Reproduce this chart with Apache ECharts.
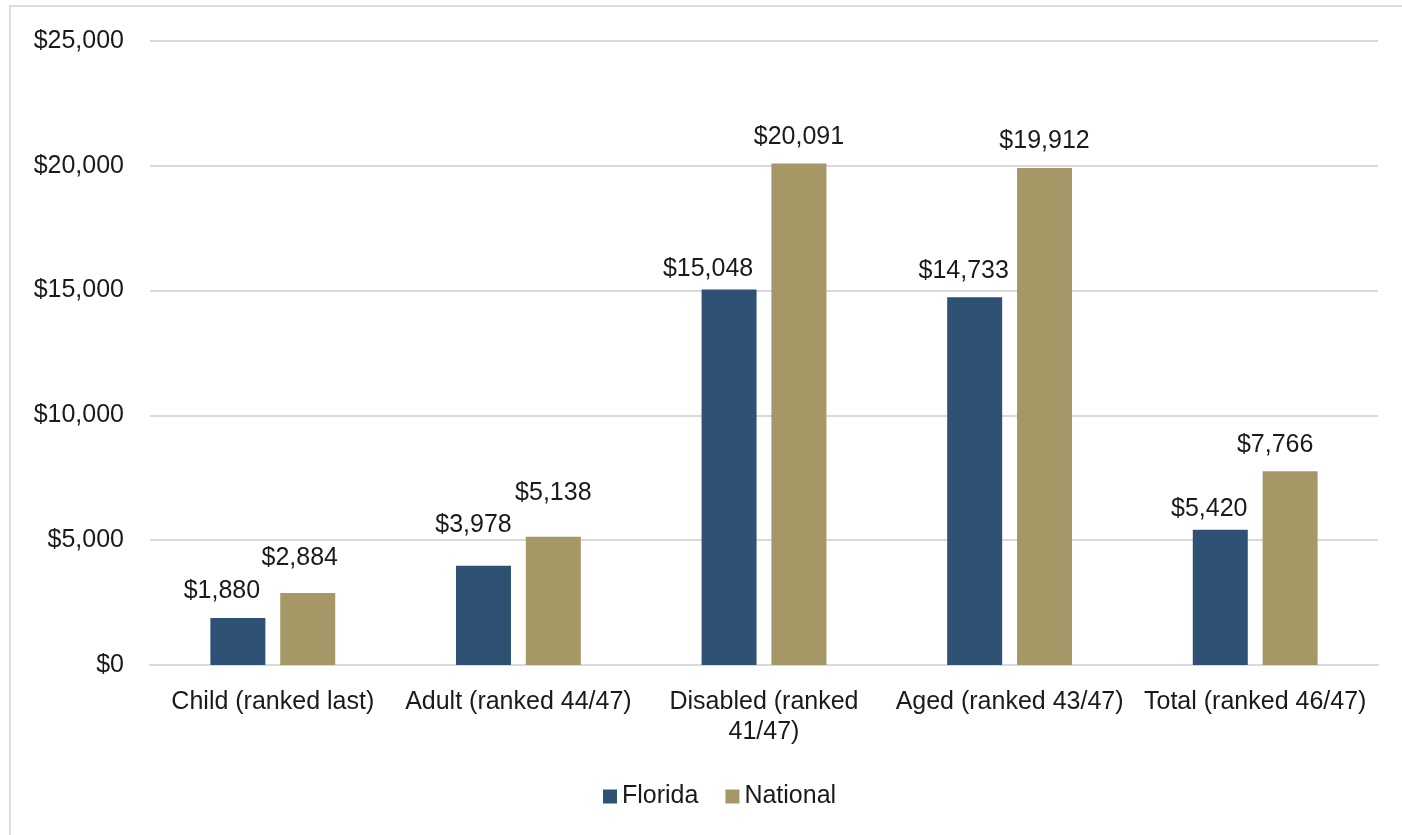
<!DOCTYPE html>
<html>
<head>
<meta charset="utf-8">
<script src="https://cdn.jsdelivr.net/npm/echarts@6/dist/echarts.min.js"></script>
<style>
  html, body { margin: 0; padding: 0; background: #ffffff; }
  #frame {
    position: absolute; left: 9px; top: 5px; width: 1393px; height: 830px;
    border-left: 2px solid #dedede; border-top: 2px solid #dedede; box-sizing: border-box;
  }
  #chart { position: absolute; left: 0; top: 0; width: 1402px; height: 835px; }
</style>
</head>
<body>
<div id="frame"></div>
<div id="chart"></div>
<script>
// Per-enrollee spending by eligibility group
const categories = [
  'Child (ranked last)',
  'Adult (ranked 44/47)',
  'Disabled (ranked 41/47)',
  'Aged (ranked 43/47)',
  'Total (ranked 46/47)'
];
const florida = [1880, 3978, 15048, 14733, 5420];
const national = [2884, 5138, 20091, 19912, 7766];
const yTicks = [0, 5000, 10000, 15000, 20000, 25000];

const FONT = '"Liberation Sans", Arial, Helvetica, sans-serif';
const TEXT = '#1a1a1a';
const FS = 25;
const money = v => '$' + Number(v).toLocaleString('en-US');

// Hand-placed value labels: [dx, dy] nudges so neighbouring labels stay clear
const floridaLabelNudge = [[-16, 0], [-10, -14], [-21, 6], [-11, 0], [-11, 6]];
const nationalLabelNudge = [[-8, -8], [0, -17], [0, 0], [0, 0], [-15, 0]];

// Word-wrap category names to the available width per category
const measureCtx = document.createElement('canvas').getContext('2d');
measureCtx.font = FS + 'px ' + FONT;
function wrapWords(text, maxWidth) {
  const words = text.split(' ');
  const lines = [];
  let line = '';
  words.forEach(w => {
    const test = line ? line + ' ' + w : w;
    if (line && measureCtx.measureText(test).width > maxWidth) {
      lines.push(line);
      line = w;
    } else {
      line = test;
    }
  });
  if (line) lines.push(line);
  return lines.join('\n');
}

function withNudges(values, nudges) {
  return values.map((v, i) => ({ value: v, label: { offset: nudges[i] } }));
}

const chart = echarts.init(document.getElementById('chart'), null, { renderer: 'canvas' });

const label = {
  show: true,
  position: 'top',
  distance: 14,
  formatter: p => money(p.value),
  fontFamily: FONT,
  fontSize: FS,
  color: TEXT
};

chart.setOption({
  animation: false,
  textStyle: { fontFamily: FONT },
  grid: { left: 150, right: 24, top: 41, bottom: 170, containLabel: false },
  legend: {
    top: 779,
    left: 598,
    itemWidth: 14,
    itemHeight: 14,
    itemGap: 27,
    icon: 'rect',
    textStyle: { fontFamily: FONT, fontSize: FS, color: TEXT },
    data: ['Florida', 'National']
  },
  xAxis: {
    type: 'category',
    data: categories,
    axisLine: { show: true, lineStyle: { color: '#d9d9d9', width: 2 } },
    axisTick: { show: false },
    axisLabel: {
      fontFamily: FONT, fontSize: FS, color: TEXT, margin: 22,
      lineHeight: 30, interval: 0,
      formatter: v => wrapWords(v, 240)
    }
  },
  yAxis: {
    type: 'value',
    min: yTicks[0],
    max: yTicks[yTicks.length - 1],
    interval: yTicks[1] - yTicks[0],
    axisLine: { show: false },
    axisTick: { show: false },
    splitLine: { lineStyle: { color: '#d9d9d9', width: 2 } },
    axisLabel: {
      fontFamily: FONT, fontSize: FS, color: TEXT, margin: 26,
      formatter: v => money(v)
    }
  },
  series: [
    {
      name: 'Florida', type: 'bar', data: withNudges(florida, floridaLabelNudge),
      barWidth: 55, barGap: '27%', barCategoryGap: '49%',
      itemStyle: { color: '#2f5274' },
      label: label
    },
    {
      name: 'National', type: 'bar', data: withNudges(national, nationalLabelNudge),
      barWidth: 55,
      itemStyle: { color: '#a69866' },
      label: label
    }
  ]
});
</script>
</body>
</html>
